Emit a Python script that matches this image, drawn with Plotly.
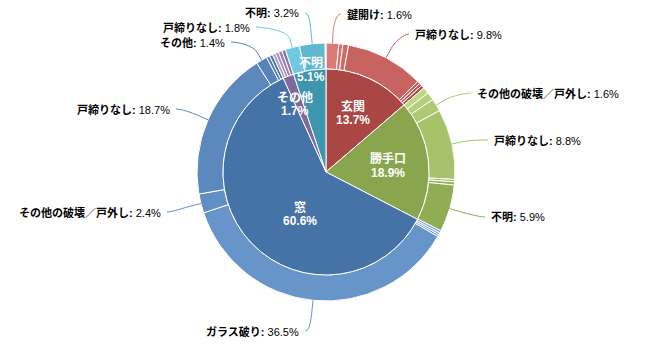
import math
import plotly.graph_objects as go

# ---------------- data ----------------
CATEGORIES = ["玄関", "勝手口", "窓", "その他", "不明"]
CATEGORY_VALUES = [13.7, 18.9, 60.6, 1.7, 5.1]

GENKAN_NAMES = ["鍵開け", "小項目1", "小項目2", "戸締りなし", "小項目3", "小項目4", "小項目5"]
GENKAN_VALUES = [1.6, 0.5, 0.7, 9.8, 0.35, 0.35, 0.4]

KATTEGUCHI_NAMES = ["小項目1", "小項目2", "その他の破壊／戸外し", "戸締りなし", "小項目3", "小項目4", "不明"]
KATTEGUCHI_VALUES = [0.8, 1.0, 1.6, 8.8, 0.3, 0.4, 5.9]

MADO_NAMES = ["小項目1", "小項目2", "小項目3", "ガラス破り", "その他の破壊／戸外し", "戸締りなし", "その他", "小項目4", "小項目5"]
MADO_VALUES = [0.3, 0.25, 0.25, 36.5, 2.4, 18.7, 1.4, 0.4, 0.4]

SONOTA_NAMES = ["小項目1", "小項目2", "小項目3", "小項目4"]
SONOTA_VALUES = [0.4, 0.4, 0.45, 0.45]

FUMEI_NAMES = ["戸締りなし", "不明", "小項目1"]
FUMEI_VALUES = [1.8, 3.2, 0.1]

CHILD_NAMES = [GENKAN_NAMES, KATTEGUCHI_NAMES, MADO_NAMES, SONOTA_NAMES, FUMEI_NAMES]
CHILD_VALUES = [GENKAN_VALUES, KATTEGUCHI_VALUES, MADO_VALUES, SONOTA_VALUES, FUMEI_VALUES]

# ---------------- layout / style ----------------
W, H = 650, 346
CX, CY = 326, 172
R_OUT = 129
R_IN = 103
BASE_COLORS = ["#AA4643", "#89A54E", "#4572A7", "#80699B", "#3D96AE"]
FONT = "Liberation Sans, Arial, Noto Sans CJK JP, sans-serif"

# outer label anchor positions (text edge), in the order labelled children appear
OUTER_LABEL_POS = [(345, 14), (413, 34),
                   (475, 93), (492, 140), (489, 217),
                   (301, 331), (163, 212), (172, 109), (227, 42),
                   (252, 27), (301, 13)]
# inner label centres
INNER_LABEL_POS = [(353, 113), (388, 165.5), (300, 214), (295, 104), (311, 69.5)]


def brighten(hexcol, a):
    r, g, b = (int(hexcol[i:i + 2], 16) for i in (1, 3, 5))
    d = int(a * 255)
    f = lambda c: max(0, min(255, c + d))
    return "#%02X%02X%02X" % (f(r), f(g), f(b))


outer_vals, outer_names, outer_cols = [], [], []
for ci, (names, vals) in enumerate(zip(CHILD_NAMES, CHILD_VALUES)):
    n = len(vals)
    for j, (nm, v) in enumerate(zip(names, vals)):
        outer_vals.append(v)
        outer_names.append(nm)
        outer_cols.append(brighten(BASE_COLORS[ci], 0.2 - (j / n) / 5))

fig = go.Figure()

fig.add_trace(go.Scatter(x=[0, W], y=[0, H], mode="markers",
                         marker=dict(opacity=0), hoverinfo="skip", showlegend=False))

fig.add_trace(go.Pie(
    values=outer_vals, labels=[f"{i}" for i in range(len(outer_vals))],
    text=outer_names, hovertemplate="%{text}: %{value}%<extra></extra>",
    sort=False, direction="clockwise", rotation=0, hole=R_IN / R_OUT,
    textinfo="none", showlegend=False,
    marker=dict(colors=outer_cols, line=dict(color="white", width=1)),
    domain=dict(x=[(CX - R_OUT) / W, (CX + R_OUT) / W],
                y=[(H - CY - R_OUT) / H, (H - CY + R_OUT) / H]),
))

fig.add_trace(go.Pie(
    values=CATEGORY_VALUES, labels=CATEGORIES,
    hovertemplate="%{label}: %{value}%<extra></extra>",
    sort=False, direction="clockwise", rotation=0,
    textinfo="none", showlegend=False,
    marker=dict(colors=BASE_COLORS, line=dict(color="white", width=1)),
    domain=dict(x=[(CX - R_IN) / W, (CX + R_IN) / W],
                y=[(H - CY - R_IN) / H, (H - CY + R_IN) / H]),
))

annotations = []
shapes = []

# outer labels with connectors
total = sum(outer_vals)
cum = 0.0
li = 0
for nm, v, col in zip(outer_names, outer_vals, outer_cols):
    mid = (cum + v / 2) / total * 2 * math.pi
    cum += v
    if v <= 1:
        continue
    ux, uy = math.sin(mid), -math.cos(mid)
    tx, ty = CX + R_OUT * ux, CY + R_OUT * uy
    d = 9
    bx, by = tx + d * ux, ty + d * uy
    c2x, c2y = tx + 2 * d * ux, ty + 2 * d * uy
    lx, ly = OUTER_LABEL_POS[li]
    li += 1
    left = ux >= 0  # right half -> text left aligned
    sx = lx - 4 if left else lx + 4
    c1x = sx - 5 if left else sx + 5
    shapes.append(dict(
        type="path", xref="x", yref="y",
        path=f"M {sx:.1f} {ly:.1f} C {c1x:.1f} {ly:.1f} {c2x:.1f} {c2y:.1f} {bx:.1f} {by:.1f} L {tx:.1f} {ty:.1f}",
        line=dict(color=col, width=1)))
    annotations.append(dict(
        x=lx, y=ly, xref="x", yref="y", showarrow=False,
        xanchor="left" if left else "right", yanchor="middle",
        text=f"<b>{nm}:</b> {v}%",
        font=dict(family=FONT, size=11, color="#000000")))

# inner labels
for (name, v), (px, py) in zip(zip(CATEGORIES, CATEGORY_VALUES), INNER_LABEL_POS):
    annotations.append(dict(x=px, y=py - 7, xref="x", yref="y", showarrow=False,
                            xanchor="center", yanchor="middle", text=f"<b>{name}</b>",
                            font=dict(family=FONT, size=12, color="white")))
    annotations.append(dict(x=px, y=py + 7, xref="x", yref="y", showarrow=False,
                            xanchor="center", yanchor="middle", text=f"<b>{v}%</b>",
                            font=dict(family=FONT, size=12, color="white")))

fig.update_layout(
    width=W, height=H, margin=dict(l=0, r=0, t=0, b=0),
    paper_bgcolor="white", plot_bgcolor="rgba(0,0,0,0)",
    xaxis=dict(range=[0, W], visible=False, fixedrange=True),
    yaxis=dict(range=[H, 0], visible=False, fixedrange=True),
    shapes=shapes, annotations=annotations, showlegend=False,
)

fig.write_html("out.html")
